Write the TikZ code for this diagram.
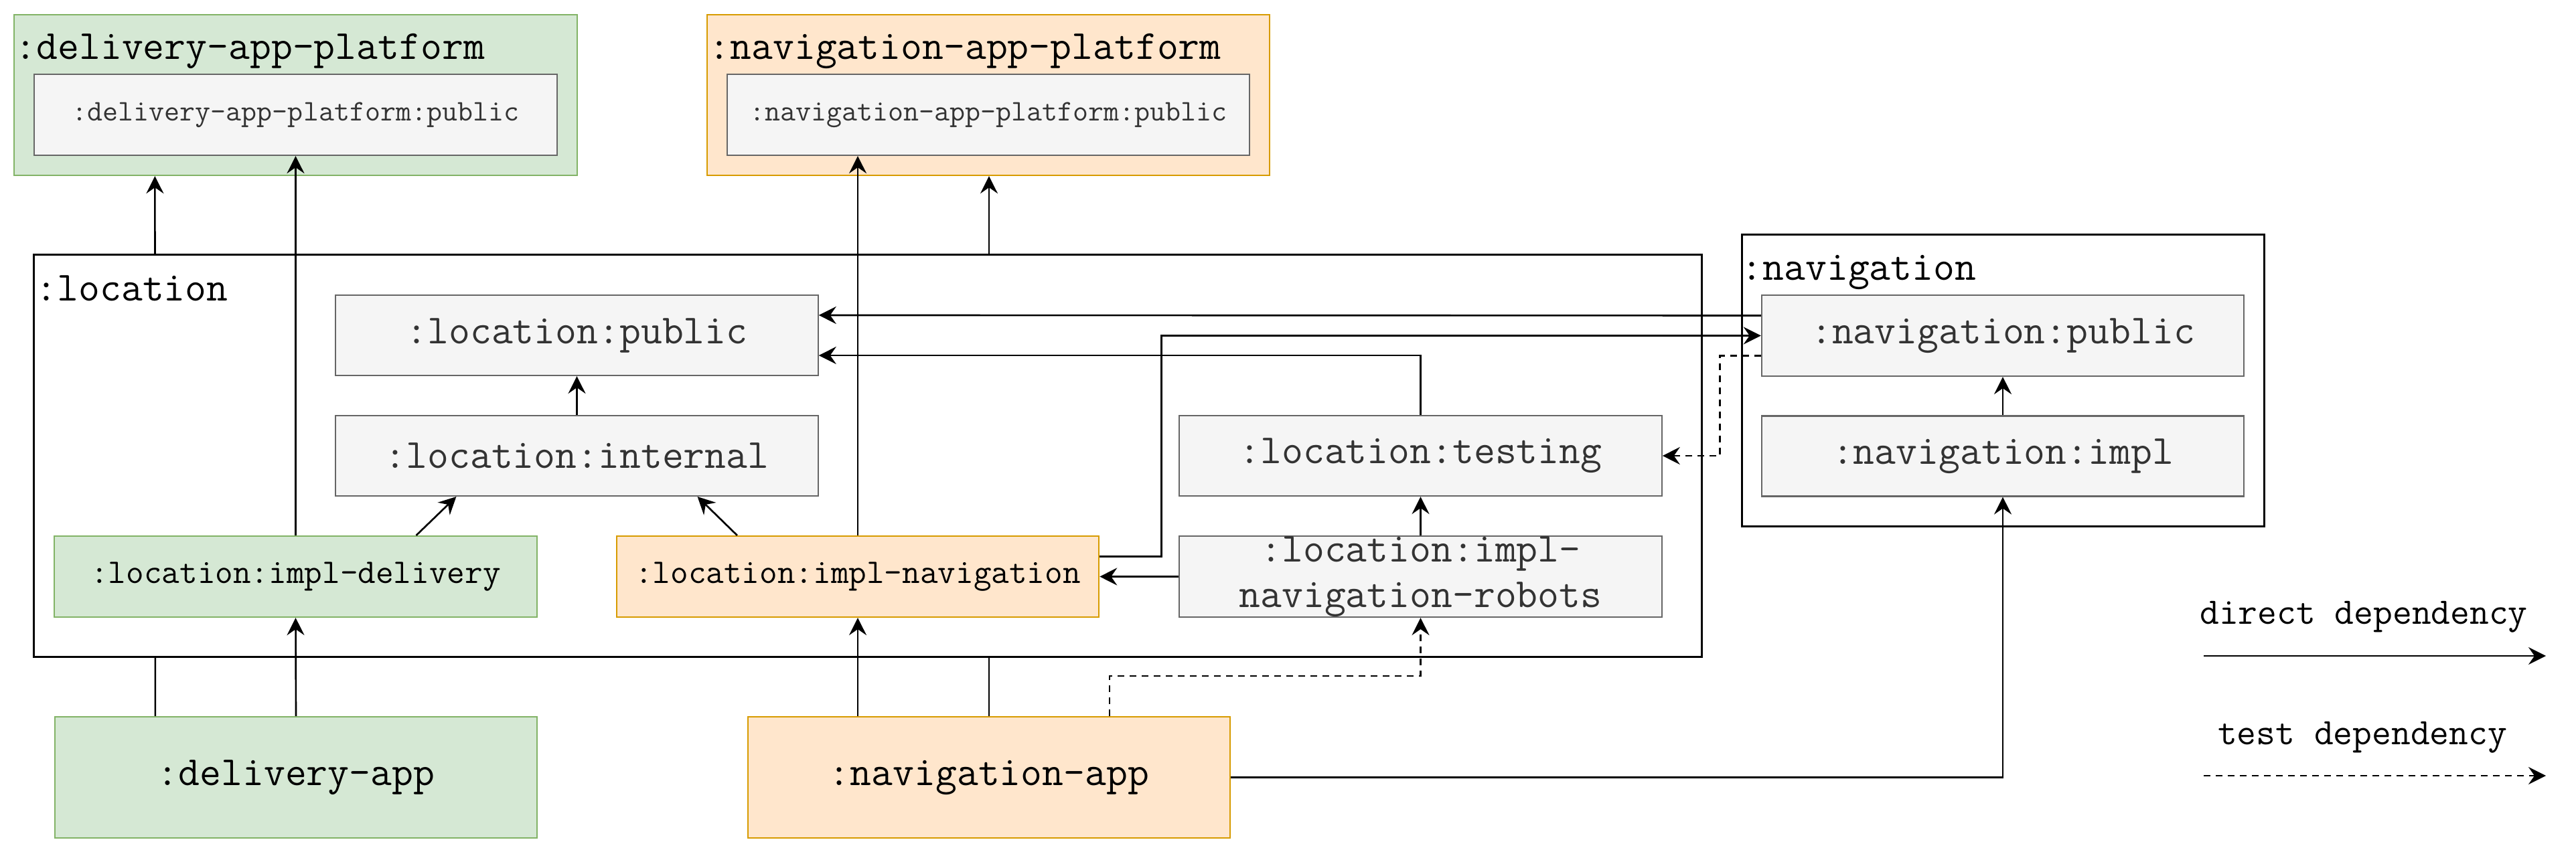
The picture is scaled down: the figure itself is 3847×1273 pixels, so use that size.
\documentclass[tikz,border=0pt]{standalone}
\usepackage{fontspec}
\usetikzlibrary{arrows.meta,positioning}

\definecolor{greenfill}{HTML}{D5E8D4}
\definecolor{greenline}{HTML}{82B366}
\definecolor{orangefill}{HTML}{FFE6CC}
\definecolor{orangeline}{HTML}{D79B00}
\definecolor{grayfill}{HTML}{F5F5F5}
\definecolor{grayline}{HTML}{666666}
\definecolor{graytext}{HTML}{333333}

\pgfdeclarelayer{background}
\pgfsetlayers{background,main}

\begin{document}
\begin{tikzpicture}[
    x=0.01cm, y=-0.01cm,
    every node/.style={font=\ttfamily\fontsize{17.6pt}{19.3pt}\selectfont},
    box/.style={rectangle, draw, line width=0.6pt, inner sep=0pt, minimum width=7.2cm, minimum height=1.2cm},
    graybox/.style={box, draw=grayline, fill=grayfill, text=graytext},
    greenbox/.style={box, draw=greenline, fill=greenfill},
    orangebox/.style={box, draw=orangeline, fill=orangefill},
    group/.style={rectangle, draw, line width=0.85pt, fill=white, inner sep=0pt},
    title/.style={anchor=base west, inner sep=0pt},
    implfont/.style={font=\ttfamily\fontsize{14.7pt}{17pt}\selectfont},
    smallfont/.style={font=\ttfamily\fontsize{12.7pt}{15pt}\selectfont},
    legendfont/.style={font=\ttfamily\fontsize{15.9pt}{18pt}\selectfont, inner sep=0pt},
    dep/.style={-{Stealth[length=0.26cm, width=0.26cm, inset=0.09cm]}, line width=0.75pt},
    testdep/.style={dep, dash pattern=on 0.1cm off 0.08cm}
]
    \useasboundingbox (0,0) rectangle (3847,1273);

    % Platform modules
    \node[greenbox, minimum width=8.41cm, minimum height=2.4cm] (dplatform) at (441.5,142) {};
    \node[title] (dplatformtitle) at (22,89) {:delivery-app-platform};
    \node[graybox, smallfont, minimum width=7.81cm, minimum height=1.21cm] (dplatpub) at (441.5,171.5) {:delivery-app-platform:public};
    \node[orangebox, minimum width=8.4cm, minimum height=2.4cm] (nplatform) at (1476,142) {};
    \node[title] (nplatformtitle) at (1058,89) {:navigation-app-platform};
    \node[graybox, smallfont, minimum width=7.8cm, minimum height=1.21cm] (nplatpub) at (1476,171.5) {:navigation-app-platform:public};

    % :location
    \node[group, minimum width=24.9cm, minimum height=6cm] (location) at (1296,681) {};
    \node[title] (locationtitle) at (53,449) {:location};
    \node[graybox] (locpublic) at (861.5,501) {:location:public};
    \node[graybox] (locinternal) at (861.5,681) {:location:internal};
    \node[greenbox, implfont, minimum height=1.21cm] (locimpldel) at (441.5,861.5) {:location:impl-delivery};
    \node[orangebox, implfont, minimum height=1.21cm] (locimplnav) at (1281,861.5) {:location:impl-navigation};
    \node[graybox] (loctesting) at (2121.5,681) {:location:testing};
    \node[graybox, minimum height=1.21cm] (locrobots) at (2121.5,861.5) {};
    \node[align=center, text=graytext, inner sep=0pt] (locrobotstext) at (locrobots) {:location:impl-\\navigation-robots};

    % :navigation
    \node[group, minimum width=7.79cm, minimum height=4.35cm] (navigation) at (2991.5,568.5) {};
    \node[title] (navigationtitle) at (2600,419) {:navigation};
    \node[graybox, minimum height=1.21cm] (navpublic) at (2991,501.5) {:navigation:public};
    \node[graybox] (navimpl) at (2991,681.5) {:navigation:impl};

    % Apps
    \node[greenbox, minimum height=1.81cm] (deliveryapp) at (442,1161.5) {:delivery-app};
    \node[orangebox, minimum height=1.81cm] (navigationapp) at (1477,1161.5) {:navigation-app};

    % Edges hidden behind :location
    \begin{pgfonlayer}{background}
        \draw[dep] ([xshift=-2.1cm]deliveryapp.north) -- ([xshift=-2.1cm]dplatform.south);
        \draw[dep] (navigationapp.north) -- (navigationapp.north |- nplatform.south);
    \end{pgfonlayer}

    % Direct dependencies
    \draw[dep] (locimpldel.north) -- (dplatpub.south);
    \draw[dep] ([xshift=1.8cm]locimpldel.north) -- ([xshift=-1.8cm]locinternal.south);
    \draw[dep] ([xshift=-1.8cm]locimplnav.north) -- ([xshift=1.8cm]locinternal.south);
    \draw[dep] (locinternal.north) -- (locpublic.south);
    \draw[dep] (locimplnav.north) -- (locimplnav.north |- nplatpub.south);
    \draw[dep] (deliveryapp.north) -- (locimpldel.south);
    \draw[dep] (navigationapp.north -| locimplnav.south) -- (locimplnav.south);
    \draw[dep] (locrobots.west) -- (locimplnav.east);
    \draw[dep] (locrobots.north) -- (loctesting.south);
    \draw[dep] (loctesting.north) |- ([yshift=-0.3cm]locpublic.east);
    \draw[dep] ([yshift=0.3cm]navpublic.west) -- ([yshift=0.3cm]locpublic.east);
    \draw[dep] ([yshift=0.3cm]locimplnav.east) -- ++(92,0) |- (navpublic.west);
    \draw[dep] (navimpl.north) -- (navpublic.south);
    \draw[dep] (navigationapp.east) -| (navimpl.south);

    % Test dependencies
    \draw[testdep] ([yshift=-0.3cm]navpublic.west) -- ++(-61,0) |- (loctesting.east);
    \draw[testdep] ([xshift=1.8cm]navigationapp.north) -- ++(0,-60) -| (locrobots.south);

    % Legend
    \coordinate (directstart) at (3291,980);
    \coordinate (directend) at (3802,980);
    \coordinate (teststart) at (3291,1159);
    \coordinate (testend) at (3802,1159);
    \node[legendfont, anchor=base] (directlabel) at (3530,932) {direct dependency};
    \node[legendfont, anchor=base] (testlabel) at (3528,1112) {test dependency};
    \draw[dep] (directstart) -- (directend);
    \draw[testdep] (teststart) -- (testend);
\end{tikzpicture}
\end{document}
